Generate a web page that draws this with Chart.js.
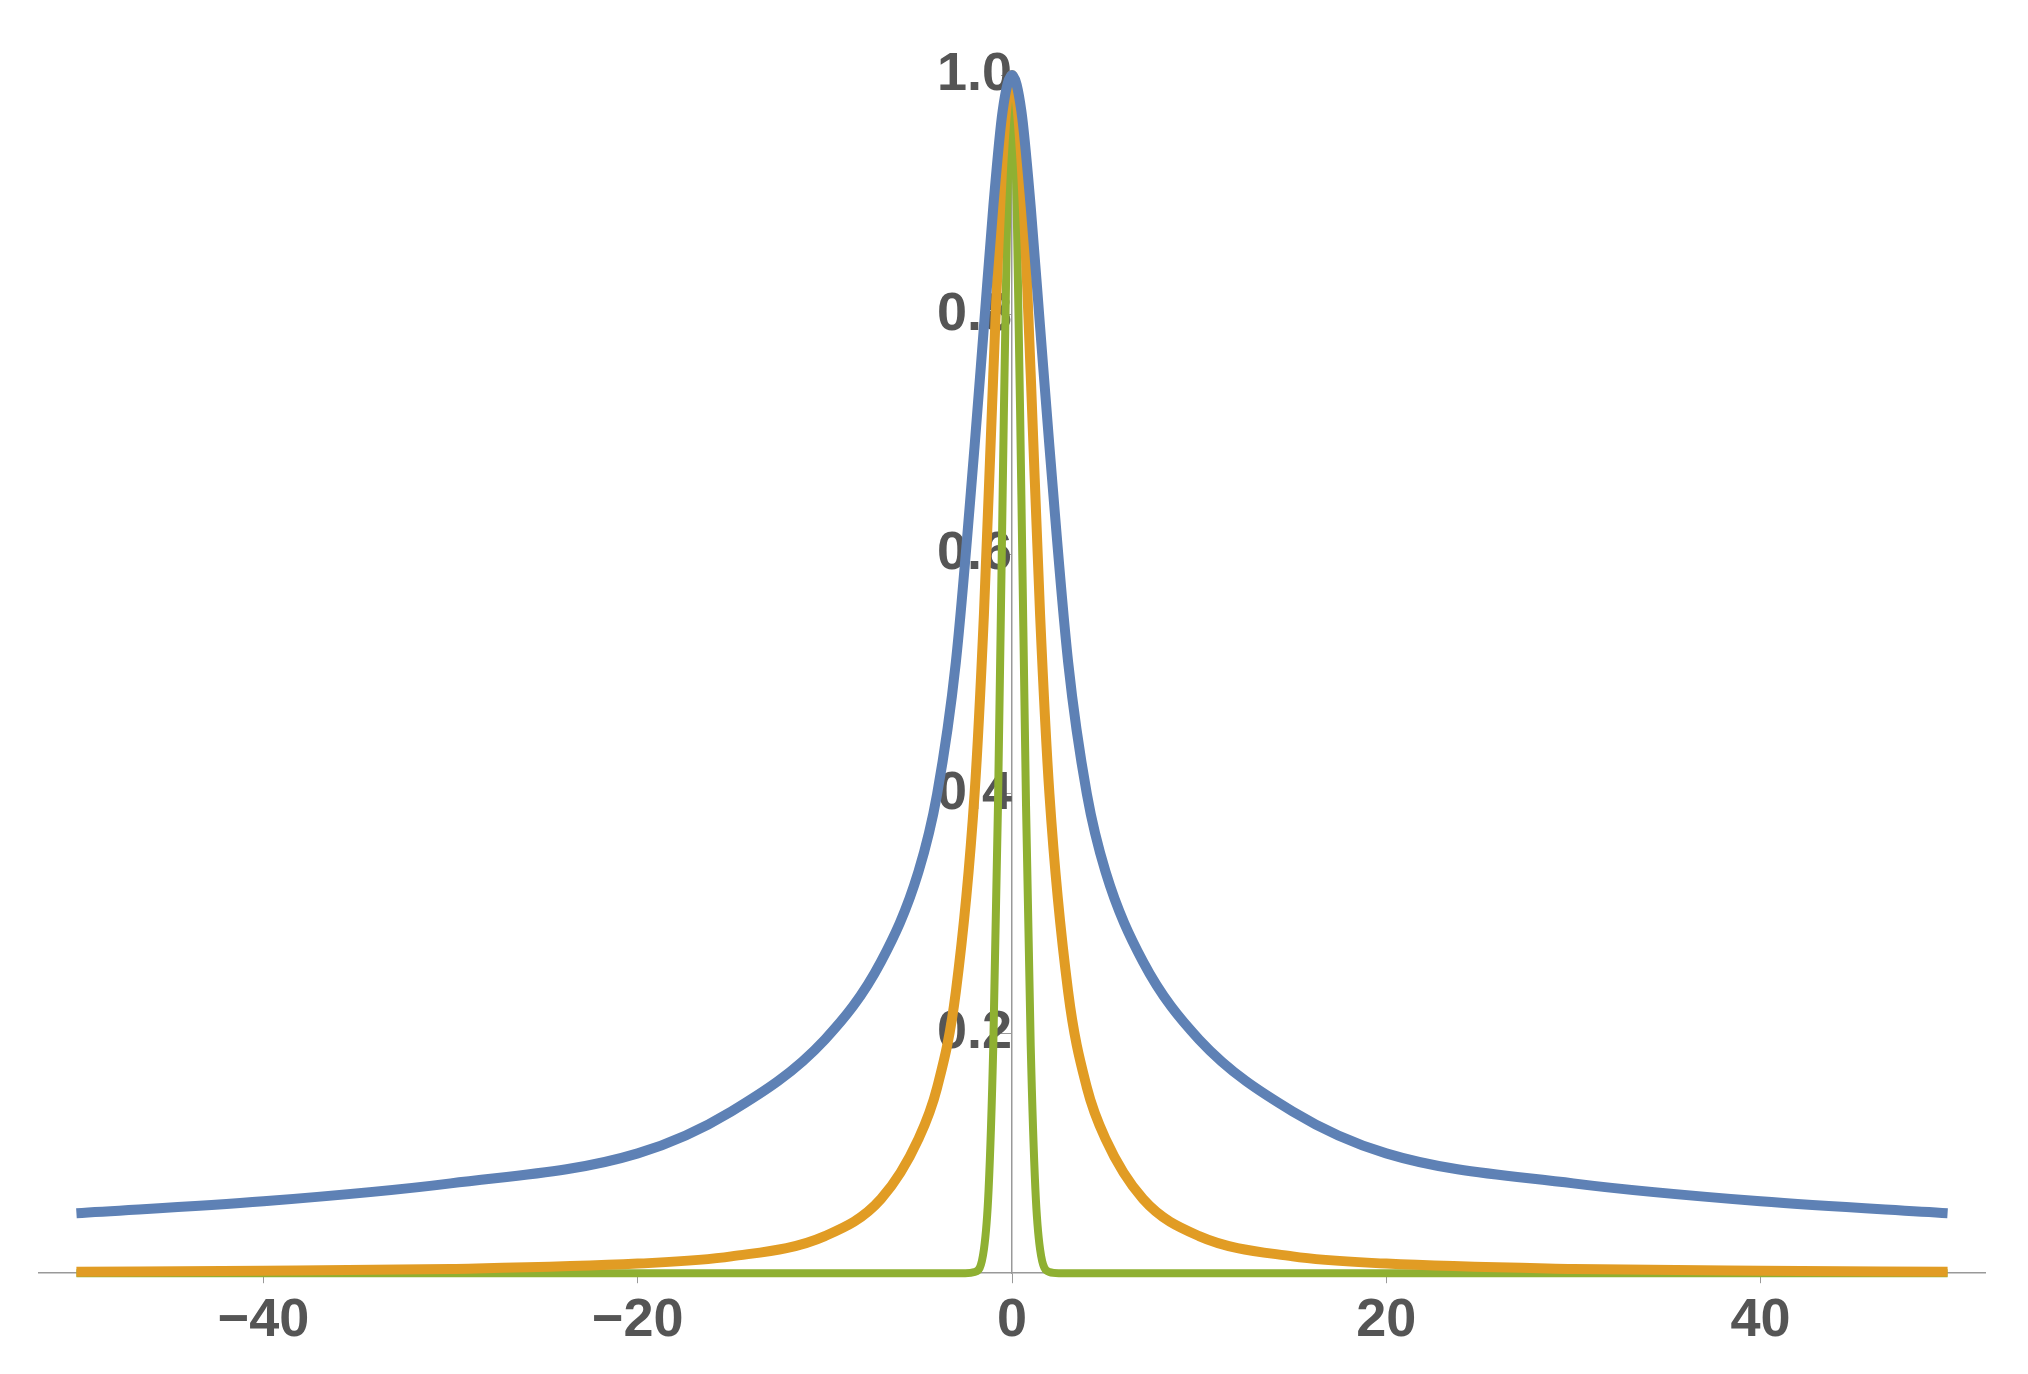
<!DOCTYPE html>
<html><head><meta charset="utf-8">
<script src="https://cdn.jsdelivr.net/npm/chart.js@4"></script>
<style>html,body{margin:0;background:#fff}#w{width:2028px;height:1374px}</style>
</head><body><div id="w"><canvas id="c"></canvas></div>
<script>
const blueX = [-50,-40,-30,-20,-15,-10,-7,-5,-4,-3,-2,-1.5,-1,-0.5,0,0.5,1,1.5,2,3,4,5,7,10,15,20,30,40,50];
const blueY = [0.05,0.06,0.075,0.10,0.135,0.195,0.26,0.335,0.40,0.51,0.69,0.79,0.89,0.97,1.0,0.97,0.89,0.79,0.69,0.51,0.40,0.335,0.26,0.195,0.135,0.10,0.075,0.06,0.05];
const orangeX = [-50,-40,-30,-20,-15,-10,-7,-5,-4,-3,-2,-1.5,-1,-0.5,0,0.5,1,1.5,2,3,4,5,7,10,15,20,30,40,50];
const orangeY = [0.0013,0.002,0.0036,0.008,0.014,0.031,0.062,0.112,0.155,0.235,0.40,0.55,0.75,0.93,1.0,0.93,0.75,0.55,0.40,0.235,0.155,0.112,0.062,0.031,0.014,0.008,0.0036,0.002,0.0013];
const greenX = [-50,-2.5,-2,-1.5,-1.25,-1,-0.75,-0.5,-0.25,0,0.25,0.5,0.75,1,1.25,1.5,2,2.5,50];
const greenY = [0,0,0.001,0.02,0.07,0.19,0.39,0.65,0.89,1.0,0.89,0.65,0.39,0.19,0.07,0.02,0.001,0,0];
const yTicks = [0.2,0.4,0.6,0.8,1.0];
const xTicks = [-40,-20,0,20,40];
const pts=(xs,ys)=>xs.map((x,i)=>({x,y:ys[i]}));
const font={family:'Liberation Sans',size:54,weight:'bold'};
new Chart(document.getElementById('c'),{
 type:'line',
 data:{datasets:[
  {data:pts(blueX,blueY),borderColor:'#5E81B5',borderWidth:10,pointRadius:0,cubicInterpolationMode:'monotone',clip:false},
  {data:pts(orangeX,orangeY),borderColor:'#E19C24',borderWidth:10,pointRadius:0,cubicInterpolationMode:'monotone',clip:false},
  {data:pts(greenX,greenY),borderColor:'#8FB032',borderWidth:8,pointRadius:0,cubicInterpolationMode:'monotone',clip:false}
 ]},
 options:{responsive:true,maintainAspectRatio:false,animation:false,
  layout:{padding:{left:39,right:43,top:75,bottom:14}},
  plugins:{legend:{display:false},tooltip:{enabled:false}},
  scales:{
   x:{type:'linear',min:-52,max:52,
      afterBuildTicks:a=>{a.ticks=xTicks.map(v=>({value:v}));},
      grid:{drawOnChartArea:false,tickLength:10,color:'#999'},border:{color:'#999',width:1.5},
      ticks:{font,color:'#555',padding:6,callback:v=>v<0?'\u2212'+(-v):String(v)}},
   y:{type:'linear',min:0,max:1,position:{x:0},
      afterBuildTicks:a=>{a.ticks=yTicks.map(v=>({value:v}));},
      grid:{drawOnChartArea:false,tickLength:10,color:'#999'},border:{color:'#999',width:1.5},
      ticks:{font,color:'#555',padding:-14,callback:v=>v.toFixed(1)}}
  }}
});
</script></body></html>
